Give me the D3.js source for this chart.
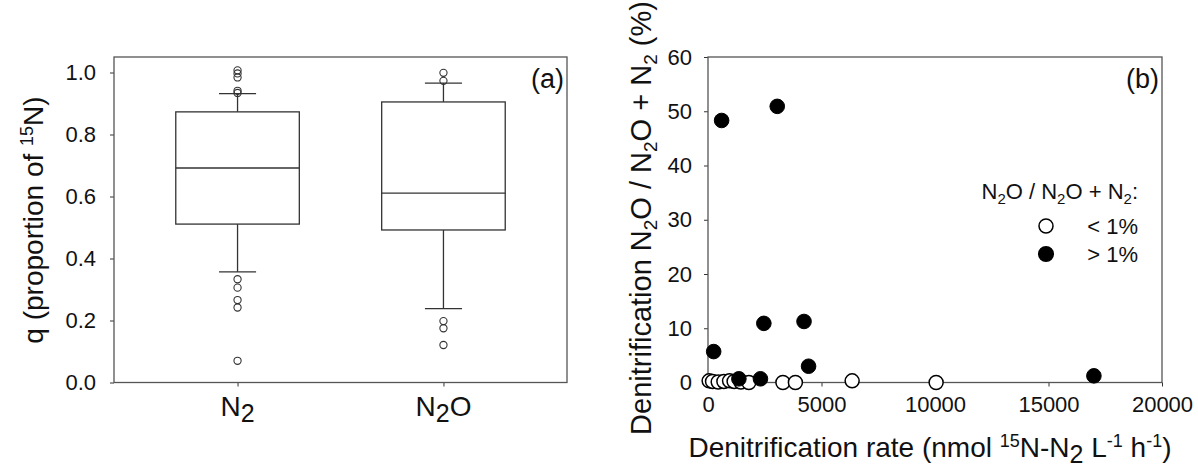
<!DOCTYPE html>
<html>
<head>
<meta charset="utf-8">
<script src="https://cdn.jsdelivr.net/npm/d3@7"></script>
<style>
body{margin:0;background:#fff}
svg{display:block;font-family:"Liberation Sans",Arial,sans-serif}
</style>
</head>
<body>
<script>
// panel (a): box plot summary
var groups=["N2","N2O"];
var q1=[0.511,0.492];
var med=[0.692,0.611];
var q3=[0.873,0.905];
var whiskLo=[0.357,0.238];
var whiskHi=[0.932,0.966];
var outN2=[1.007,0.997,0.984,0.941,0.934,0.333,0.306,0.266,0.242,0.070];
var outN2O=[0.999,0.973,0.198,0.175,0.121];
var qTicks=[0,0.2,0.4,0.6,0.8,1.0];

// panel (b): N2O/(N2O+N2) vs denitrification rate
var rateLow=[50,200,450,700,950,1150,1450,1800,3300,3850,6350,10050];
var ratioLow=[0.3,0.2,0.1,0.2,0.3,0.2,0.1,0.0,0.0,0.0,0.3,0.0];
var rateHigh=[600,3050,250,2460,4230,4430,1360,2310,17000];
var ratioHigh=[48.3,50.9,5.7,10.9,11.25,3.0,0.68,0.68,1.23];
var rateTicks=[0,5000,10000,15000,20000];
var ratioTicks=[0,10,20,30,40,50,60];

var W=1198,H=470;
var ink="#333";
var svg=d3.select("body").append("svg").attr("width",W).attr("height",H);

// writes a run of [text, kind] pieces into a text node; kind = sub / sup / back
function rich(t,parts,sub,sup,shift){
  var cur=0;
  parts.forEach(function(p){
    var target=p[1]==="sub"?shift:(p[1]==="sup"?-shift*1.6:0);
    var ts=t.append("tspan").attr("dy",target-cur).text(p[0]);
    if(p[1]==="sub") ts.attr("font-size",sub);
    if(p[1]==="sup") ts.attr("font-size",sup);
    cur=target;
  });
}

// ---------- panel (a) ----------
var a={left:114,right:567,top:57,bottom:382.5};
var xA=d3.scaleLinear().domain([0.4,2.6]).range([a.left,a.right]);
var yA=d3.scaleLinear().domain([0,1.05]).range([a.bottom,a.top]);
var gA=svg.append("g");

gA.append("g").attr("transform","translate("+a.left+",0)")
  .call(d3.axisLeft(yA).tickValues(qTicks).tickFormat(d3.format(".1f")).tickSize(4).tickPadding(14))
  .call(function(g){g.select(".domain").remove();
    g.selectAll("line").attr("stroke",ink);
    g.selectAll("text").attr("font-size",22).attr("fill","#111").attr("font-family",null);});

gA.append("g").attr("transform","translate(0,"+a.bottom+")")
  .call(d3.axisBottom(xA).tickValues([1,2]).tickFormat("").tickSize(4))
  .call(function(g){g.select(".domain").remove();g.selectAll("line").attr("stroke",ink);});

gA.append("rect").attr("x",a.left).attr("y",a.top)
  .attr("width",a.right-a.left).attr("height",a.bottom-a.top)
  .attr("fill","none").attr("stroke","#555").attr("stroke-width",1.3);

// group labels with subscripts
groups.forEach(function(g,i){
  var t=gA.append("text").attr("x",xA(i+1)).attr("y",416)
    .attr("text-anchor","middle").attr("font-size",28).attr("fill","#111");
  var parts=[["N"],["2","sub"]];
  if(g==="N2O") parts.push(["O"]);
  rich(t,parts,25,25,6);
});

var boxW=0.6,capW=0.09;
groups.forEach(function(g,i){
  var c=i+1;
  var bg=gA.append("g").attr("stroke",ink).attr("stroke-width",1.3).attr("fill","none");
  bg.append("line").attr("x1",xA(c)).attr("x2",xA(c)).attr("y1",yA(q3[i])).attr("y2",yA(whiskHi[i]));
  bg.append("line").attr("x1",xA(c)).attr("x2",xA(c)).attr("y1",yA(q1[i])).attr("y2",yA(whiskLo[i]));
  bg.append("line").attr("x1",xA(c-capW)).attr("x2",xA(c+capW)).attr("y1",yA(whiskHi[i])).attr("y2",yA(whiskHi[i]));
  bg.append("line").attr("x1",xA(c-capW)).attr("x2",xA(c+capW)).attr("y1",yA(whiskLo[i])).attr("y2",yA(whiskLo[i]));
  bg.append("rect").attr("x",xA(c-boxW/2)).attr("y",yA(q3[i]))
    .attr("width",xA(c+boxW/2)-xA(c-boxW/2)).attr("height",yA(q1[i])-yA(q3[i]))
    .attr("fill","#fff");
  bg.append("line").attr("x1",xA(c-boxW/2)).attr("x2",xA(c+boxW/2)).attr("y1",yA(med[i])).attr("y2",yA(med[i]));
  var outs=i===0?outN2:outN2O;
  bg.selectAll("circle").data(outs).enter().append("circle")
    .attr("cx",xA(c)).attr("cy",function(d){return yA(d);})
    .attr("r",3.6).attr("stroke-width",1.1);
});

gA.append("text").attr("x",564).attr("y",88).attr("text-anchor","end")
  .attr("font-size",27).attr("fill","#111").text("(a)");

var tA=gA.append("text").attr("transform","translate(43,220) rotate(-90)")
  .attr("text-anchor","middle").attr("font-size",28).attr("fill","#111");
rich(tA,[["q (proportion of "],["15","sup"],["N)"]],18,18,6.5);

// ---------- panel (b) ----------
var b={left:708,right:1162,top:57,bottom:382.5};
var xB=d3.scaleLinear().domain([0,20000]).range([b.left,b.right]);
var yB=d3.scaleLinear().domain([0,60]).range([b.bottom,b.top]);
var gB=svg.append("g");

gB.append("g").attr("transform","translate("+b.left+",0)")
  .call(d3.axisLeft(yB).tickValues(ratioTicks).tickSize(4).tickPadding(12))
  .call(function(g){g.select(".domain").remove();
    g.selectAll("line").attr("stroke",ink);
    g.selectAll("text").attr("font-size",22).attr("fill","#111").attr("font-family",null);});

gB.append("g").attr("transform","translate(0,"+b.bottom+")")
  .call(d3.axisBottom(xB).tickValues(rateTicks).tickFormat(d3.format("d")).tickSize(4).tickPadding(10))
  .call(function(g){g.select(".domain").remove();
    g.selectAll("line").attr("stroke",ink);
    g.selectAll("text").attr("font-size",22).attr("fill","#111").attr("font-family",null);});

gB.append("rect").attr("x",b.left).attr("y",b.top)
  .attr("width",b.right-b.left).attr("height",b.bottom-b.top)
  .attr("fill","none").attr("stroke","#555").attr("stroke-width",1.3);

gB.append("g").selectAll("circle").data(rateLow).enter().append("circle")
  .attr("cx",function(d){return xB(d);})
  .attr("cy",function(d,i){return yB(ratioLow[i]);})
  .attr("r",7).attr("fill","#fff").attr("stroke","#000").attr("stroke-width",1.5);

gB.append("g").selectAll("circle").data(rateHigh).enter().append("circle")
  .attr("cx",function(d){return xB(d);})
  .attr("cy",function(d,i){return yB(ratioHigh[i]);})
  .attr("r",7.3).attr("fill","#000").attr("stroke","#000").attr("stroke-width",1);

gB.append("text").attr("x",1159).attr("y",88).attr("text-anchor","end")
  .attr("font-size",27).attr("fill","#111").text("(b)");

// legend
var lg=gB.append("text").attr("x",1138).attr("y",199).attr("text-anchor","end")
  .attr("font-size",22).attr("fill","#111");
rich(lg,[["N"],["2","sub"],["O / N"],["2","sub"],["O + N"],["2","sub"],[":"]],15,15,5);
var legendLabels=["< 1%","> 1%"];
var legendFill=["#fff","#000"];
legendLabels.forEach(function(l,i){
  var yy=226+i*28;
  gB.append("circle").attr("cx",1046).attr("cy",yy).attr("r",i?7.3:7)
    .attr("fill",legendFill[i]).attr("stroke","#000").attr("stroke-width",1.5);
  gB.append("text").attr("x",1138).attr("y",yy+8).attr("text-anchor","end")
    .attr("font-size",22).attr("fill","#111").text(l);
});

// axis titles
var tyB=gB.append("text").attr("transform","translate(651,218) rotate(-90)")
  .attr("text-anchor","middle").attr("font-size",29).attr("fill","#111");
rich(tyB,[["Denitrification N"],["2","sub"],["O / N"],["2","sub"],["O + N"],["2","sub"],[" (%)"]],19,19,6);

var txB=gB.append("text").attr("x",930).attr("y",457).attr("text-anchor","middle")
  .attr("font-size",28).attr("fill","#111");
rich(txB,[["Denitrification rate (nmol "],["15","sup"],["N-N"],["2","sub"],[" L"],["-1","sup"],[" h"],["-1","sup"],[")"]],25,18,6);
</script>
</body>
</html>
